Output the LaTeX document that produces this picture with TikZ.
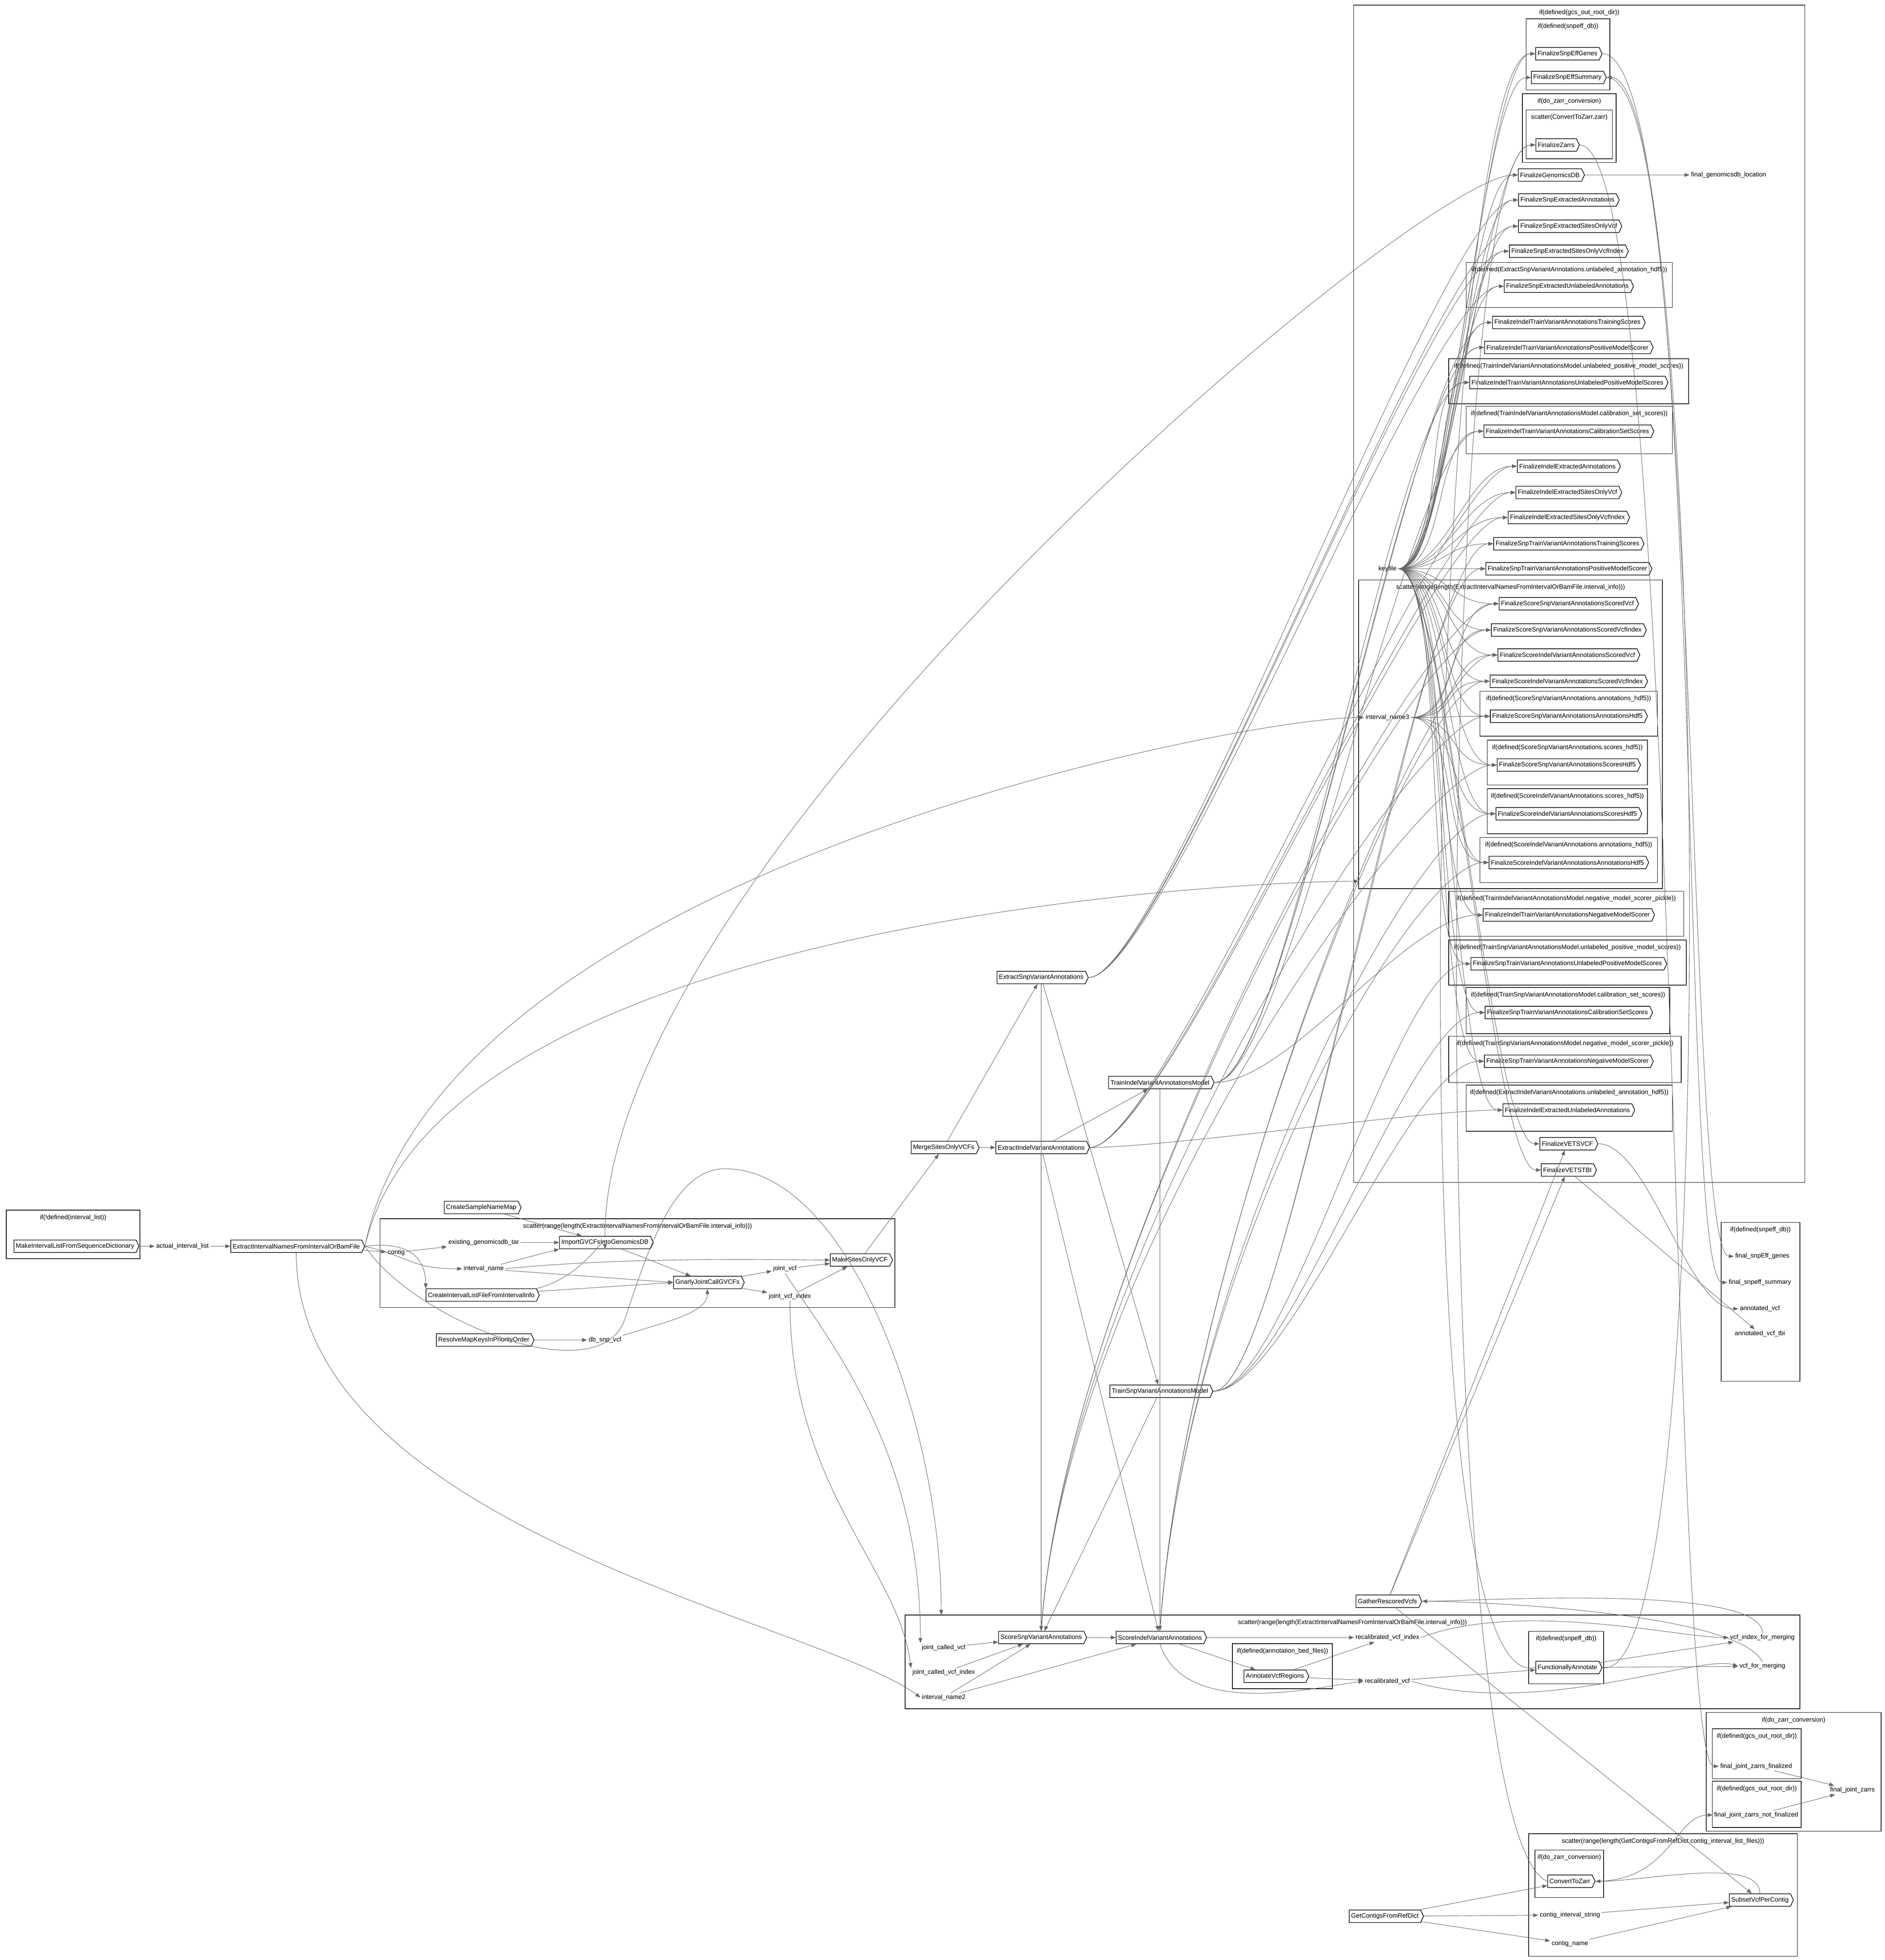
\documentclass[tikz,border=0pt]{standalone}
\usepackage{fontspec}
\setmainfont{Liberation Sans}
\usetikzlibrary{shapes.symbols,arrows.meta}
\begin{document}
\begin{tikzpicture}[x=1pt,y=-1pt,
  every node/.style={font=\fontsize{5.1}{6}\selectfont},
  task/.style={draw, signal, signal to=east, signal pointer angle=130, inner sep=1.5pt, minimum height=10pt, line width=0.5pt, fill=white},
  data/.style={inner sep=1pt},
  e/.style={draw=black!60, line width=0.35pt, -{Triangle[length=4pt,width=3pt]}},
  cl/.style={draw, line width=0.5pt},
  ctitle/.style={inner sep=0.5pt}]
\useasboundingbox (0,0) rectangle (1508,1568);
\newcommand\clus[6]{\draw[cl] (#2,#3) rectangle (#4,#5); \node[ctitle] (#1) at ({(#2+#4)/2},{#3+6}) {#6};}
% ---------- clusters
\clus{cA}{5}{968}{112}{1007}{if(!defined(interval\_list))}
\clus{cB}{304}{975}{716}{1046}{scatter(range(length(ExtractIntervalNamesFromIntervalOrBamFile.interval\_info)))}
\clus{cTop}{1083}{4}{1444}{946}{if(defined(gcs\_out\_root\_dir))}
\clus{cSE}{1221}{15}{1288}{72}{if(defined(snpeff\_db))}
\clus{cZ}{1218}{75}{1293}{130}{if(do\_zarr\_conversion)}
\clus{cZ2}{1221}{88}{1290}{127}{scatter(ConvertToZarr.zarr)}
\clus{c1}{1173}{210}{1338}{246}{if(defined(ExtractSnpVariantAnnotations.unlabeled\_annotation\_hdf5))}
\clus{c2}{1159}{287}{1351}{323}{if(defined(TrainIndelVariantAnnotationsModel.unlabeled\_positive\_model\_scores))}
\clus{c3}{1173}{325}{1338}{363}{if(defined(TrainIndelVariantAnnotationsModel.calibration\_set\_scores))}
\clus{cS3}{1087}{464}{1330}{711}{scatter(range(length(ExtractIntervalNamesFromIntervalOrBamFile.interval\_info)))}
\clus{c4}{1184}{553}{1326}{589}{if(defined(ScoreSnpVariantAnnotations.annotations\_hdf5))}
\clus{c5}{1190}{592}{1318}{628}{if(defined(ScoreSnpVariantAnnotations.scores\_hdf5))}
\clus{c6}{1190}{631}{1318}{667}{if(defined(ScoreIndelVariantAnnotations.scores\_hdf5))}
\clus{c7}{1184}{670}{1326}{706}{if(defined(ScoreIndelVariantAnnotations.annotations\_hdf5))}
\clus{c8}{1159}{713}{1347}{749}{if(defined(TrainIndelVariantAnnotationsModel.negative\_model\_scorer\_pickle))}
\clus{c9}{1159}{752}{1349}{788}{if(defined(TrainSnpVariantAnnotationsModel.unlabeled\_positive\_model\_scores))}
\clus{c10}{1173}{790}{1336}{827}{if(defined(TrainSnpVariantAnnotationsModel.calibration\_set\_scores))}
\clus{c11}{1159}{829}{1345}{866}{if(defined(TrainSnpVariantAnnotationsModel.negative\_model\_scorer\_pickle))}
\clus{c12}{1173}{868}{1338}{905}{if(defined(ExtractIndelVariantAnnotations.unlabeled\_annotation\_hdf5))}
\clus{cB2}{724}{1292}{1440}{1367}{scatter(range(length(ExtractIntervalNamesFromIntervalOrBamFile.interval\_info)))}
\clus{cBed}{986}{1315}{1066}{1351}{if(defined(annotation\_bed\_files))}
\clus{cSE2}{1223}{1305}{1283}{1347}{if(defined(snpeff\_db))}
\clus{cOut}{1377}{978}{1440}{1105}{if(defined(snpeff\_db))}
\clus{cZo}{1365}{1370}{1505}{1465}{if(do\_zarr\_conversion)}
\clus{cZo1}{1370}{1383}{1441}{1423}{if(defined(gcs\_out\_root\_dir))}
\clus{cZo2}{1370}{1425}{1441}{1462}{if(defined(gcs\_out\_root\_dir))}
\clus{cC}{1223}{1467}{1438}{1565}{scatter(range(length(GetContigsFromRefDict.contig\_interval\_list\_files)))}
\clus{cCZ}{1228}{1480}{1283}{1518}{if(do\_zarr\_conversion)}
% ---------- left nodes
\node[task] (MIL) at (60,997) {MakeIntervalListFromSequenceDictionary};
\node[data] (ail) at (146,997) {actual\_interval\_list};
\node[task] (EIN) at (237,997) {ExtractIntervalNamesFromIntervalOrBamFile};
\node[data] (contig) at (317,1002) {contig};
\node[task] (CSN) at (385,966) {CreateSampleNameMap};
\node[data] (egt) at (387,994) {existing\_genomicsdb\_tar};
\node[task] (IMP) at (484,994) {ImportGVCFsIntoGenomicsDB};
\node[data] (iname) at (387,1015) {interval\_name};
\node[task] (CIL) at (385,1036) {CreateIntervalListFileFromIntervalInfo};
\node[task] (GJC) at (566,1026) {GnarlyJointCallGVCFs};
\node[data] (jvcf) at (628,1015) {joint\_vcf};
\node[data] (jvcfi) at (632,1037) {joint\_vcf\_index};
\node[task] (MSO) at (688,1008) {MakeSitesOnlyVCF};
\node[task] (RMK) at (387,1072) {ResolveMapKeysInPriorityOrder};
\node[data] (dbsnp) at (484,1072) {db\_snp\_vcf};
% ---------- middle
\node[task] (MSV) at (755,918) {MergeSitesOnlyVCFs};
\node[task] (ESA) at (833,782) {ExtractSnpVariantAnnotations};
\node[task] (EIA) at (833,918) {ExtractIndelVariantAnnotations};
\node[task] (TIM) at (928,866) {TrainIndelVariantAnnotationsModel};
\node[task] (TSM) at (928,1113) {TrainSnpVariantAnnotationsModel};
\node[task] (GRV) at (1110,1281) {GatherRescoredVcfs};
% ---------- bottom scatter
\node[data] (jcv) at (755,1318) {joint\_called\_vcf};
\node[data] (jcvi) at (755,1338) {joint\_called\_vcf\_index};
\node[data] (in2) at (755,1358) {interval\_name2};
\node[task] (SSA) at (833,1310) {ScoreSnpVariantAnnotations};
\node[task] (SIA) at (928,1310) {ScoreIndelVariantAnnotations};
\node[data] (rvi) at (1110,1310) {recalibrated\_vcf\_index};
\node[task] (AVR) at (1020,1341) {AnnotateVcfRegions};
\node[data] (rv) at (1110,1345) {recalibrated\_vcf};
\node[task] (FA) at (1254,1334) {FunctionallyAnnotate};
\node[data] (vim) at (1410,1310) {vcf\_index\_for\_merging};
\node[data] (vm) at (1410,1333) {vcf\_for\_merging};
% ---------- right outputs
\node[data] (fsg) at (1410,1005) {final\_snpEff\_genes};
\node[data] (fss) at (1408,1026) {final\_snpeff\_summary};
\node[data] (av) at (1408,1047) {annotated\_vcf};
\node[data] (avt) at (1408,1067) {annotated\_vcf\_tbi};
\node[data] (fjzf) at (1405,1413) {final\_joint\_zarrs\_finalized};
\node[data] (fjzn) at (1405,1452) {final\_joint\_zarrs\_not\_finalized};
\node[data] (fjz) at (1482,1432) {final\_joint\_zarrs};
\node[task] (GCR) at (1108,1533) {GetContigsFromRefDict};
\node[task] (CTZ) at (1256,1505) {ConvertToZarr};
\node[data] (cis) at (1256,1532) {contig\_interval\_string};
\node[data] (cn) at (1256,1555) {contig\_name};
\node[task] (SVC) at (1408,1520) {SubsetVcfPerContig};
% ---------- top cluster
\node[data] (key) at (1110,455) {keyfile};
\node[data] (in3) at (1110,574) {interval\_name3};
\node[task] (F1) at (1254,43) {FinalizeSnpEffGenes};
\node[task] (F2) at (1254,62) {FinalizeSnpEffSummary};
\node[task] (F3) at (1245,116) {FinalizeZarrs};
\node[task] (F4) at (1240,140) {FinalizeGenomicsDB};
\node[data] (fgl) at (1383,140) {final\_genomicsdb\_location};
\node[task] (F5) at (1254,160) {FinalizeSnpExtractedAnnotations};
\node[task] (F6) at (1255,181) {FinalizeSnpExtractedSitesOnlyVcf};
\node[task] (F7) at (1254,201) {FinalizeSnpExtractedSitesOnlyVcfIndex};
\node[task] (F8) at (1254,229) {FinalizeSnpExtractedUnlabeledAnnotations};
\node[task] (F9) at (1254,258) {FinalizeIndelTrainVariantAnnotationsTrainingScores};
\node[task] (F10) at (1254,278) {FinalizeIndelTrainVariantAnnotationsPositiveModelScorer};
\node[task] (F11) at (1254,306) {FinalizeIndelTrainVariantAnnotationsUnlabeledPositiveModelScores};
\node[task] (F12) at (1254,345) {FinalizeIndelTrainVariantAnnotationsCalibrationSetScores};
\node[task] (F13) at (1254,373) {FinalizeIndelExtractedAnnotations};
\node[task] (F14) at (1254,394) {FinalizeIndelExtractedSitesOnlyVcf};
\node[task] (F15) at (1254,414) {FinalizeIndelExtractedSitesOnlyVcfIndex};
\node[task] (F16) at (1254,435) {FinalizeSnpTrainVariantAnnotationsTrainingScores};
\node[task] (F17) at (1254,455) {FinalizeSnpTrainVariantAnnotationsPositiveModelScorer};
\node[task] (S1) at (1254,483) {FinalizeScoreSnpVariantAnnotationsScoredVcf};
\node[task] (S2) at (1254,504) {FinalizeScoreSnpVariantAnnotationsScoredVcfIndex};
\node[task] (S3) at (1254,524) {FinalizeScoreIndelVariantAnnotationsScoredVcf};
\node[task] (S4) at (1254,545) {FinalizeScoreIndelVariantAnnotationsScoredVcfIndex};
\node[task] (S5) at (1254,573) {FinalizeScoreSnpVariantAnnotationsAnnotationsHdf5};
\node[task] (S6) at (1254,612) {FinalizeScoreSnpVariantAnnotationsScoresHdf5};
\node[task] (S7) at (1254,651) {FinalizeScoreIndelVariantAnnotationsScoresHdf5};
\node[task] (S8) at (1254,690) {FinalizeScoreIndelVariantAnnotationsAnnotationsHdf5};
\node[task] (F18) at (1254,732) {FinalizeIndelTrainVariantAnnotationsNegativeModelScorer};
\node[task] (F19) at (1254,771) {FinalizeSnpTrainVariantAnnotationsUnlabeledPositiveModelScores};
\node[task] (F20) at (1254,810) {FinalizeSnpTrainVariantAnnotationsCalibrationSetScores};
\node[task] (F21) at (1254,849) {FinalizeSnpTrainVariantAnnotationsNegativeModelScorer};
\node[task] (F22) at (1254,888) {FinalizeIndelExtractedUnlabeledAnnotations};
\node[task] (FV) at (1254,915) {FinalizeVETSVCF};
\node[task] (FT) at (1254,936) {FinalizeVETSTBI};
\coordinate (sc3in) at (1087,705);
\coordinate (b2in) at (753,1292);
% ---------- edges
\begin{scope}[every path/.style={e}]
\draw (MIL) -- (ail); \draw (ail) -- (EIN);
\draw (EIN) -- (contig);
\draw (EIN.east) .. controls +(40,10) and +(-40,0) .. (iname.west);
\draw (EIN.east) .. controls +(40,-5) and +(0,-20) .. (CIL.north west);
\draw (EIN.east) .. controls +(60,-300) and +(-100,0) .. (in3.west);
\draw (EIN.east) .. controls +(60,-260) and +(-100,0) .. (sc3in);
\draw (EIN.south) .. controls +(0,220) and +(-80,-60) .. (in2.west);
\draw (EIN.east) .. controls +(40,60) and +(-20,60) .. (500,1055) .. controls +(20,-60) and +(-40,0) .. (580,935) .. controls +(100,0) and +(0,-150) .. (b2in);
\draw (contig) -- (egt); \draw (egt) -- (IMP); \draw (CSN) -- (IMP);
\draw (iname) -- (IMP.south west); \draw (iname) -- (GJC.west);
\draw (iname.east) .. controls +(100,-10) and +(-40,0) .. (MSO.west);
\draw (CIL.north east) .. controls +(40,-10) and +(0,-15) .. (IMP.south);
\draw (CIL) -- (GJC.west);
\draw (IMP) -- (GJC); \draw (GJC) -- (jvcf); \draw (GJC) -- (jvcfi);
\draw (jvcf) -- (MSO); \draw (jvcfi) -- (MSO);
\draw (RMK) -- (dbsnp); \draw (dbsnp.north east) .. controls +(30,-10) and +(0,20) .. (GJC.south);
\draw (MSO) -- (MSV);
\draw (MSV) -- (ESA); \draw (MSV) -- (EIA);
\draw (jvcf.south) .. controls +(40,60) and +(0,-150) .. (jcv.north west);
\draw (jvcfi.south) .. controls +(0,150) and +(-10,-80) .. (jcvi.north west);
\draw (IMP.north) .. controls +(0,-300) and +(-80,0) .. (F4.west);
\draw (ESA) -- (SSA); \draw (EIA) -- (SSA); \draw (EIA) -- (SIA);
\draw (EIA) -- (TIM); \draw (ESA) -- (TSM);
\draw (TIM) -- (SIA); \draw (TSM) -- (SSA);
\draw (jcv) -- (SSA); \draw (jcvi) -- (SSA); \draw (in2) -- (SSA); \draw (in2) -- (SIA);
\draw (SSA) -- (SIA);
\draw (SIA) -- (rvi); \draw (SIA) -- (AVR);
\draw (SIA.south) .. controls +(20,60) and +(-40,5) .. (rv.west);
\draw (AVR) -- (rv); \draw (AVR) -- (rvi);
\draw (rv) -- (FA);
\draw (rv.east) .. controls +(100,30) and +(-30,-10) .. (vm.west);
\draw (rvi.east) .. controls +(80,-30) and +(-40,0) .. (vim.west);
\draw (FA) -- (vm); \draw (FA) -- (vim);
\draw (FA.west) .. controls +(-120,30) and +(-80,0) .. (F1.west);
\draw (FA.east) .. controls +(100,20) and +(80,0) .. (F2.east);
\draw (vm.north) .. controls +(-20,-40) and +(40,0) .. (GRV.east);
\draw (vim.north) .. controls +(0,-40) and +(40,0) .. (GRV.east);
\draw (GRV) -- (FV); \draw (GRV) -- (FT); \draw (GRV) -- (SVC);
\draw (FV.east) .. controls +(40,0) and +(-40,0) .. (av.west); \draw (FT) -- (avt);
\draw (F1.east) .. controls +(80,0) and +(-40,0) .. (fsg.west);
\draw (F2.east) .. controls +(80,0) and +(-40,0) .. (fss.west);
\draw (F4) -- (fgl);
\draw (GCR) -- (cis); \draw (GCR) -- (cn); \draw (GCR) -- (CTZ);
\draw (cis) -- (SVC); \draw (cn) -- (SVC);
\draw (SVC.north) .. controls +(0,-30) and +(40,0) .. (CTZ.east);
\draw (CTZ.west) .. controls +(-100,-40) and +(-80,0) .. (F3.west);
\draw (CTZ.east) .. controls +(60,0) and +(-30,0) .. (fjzn.west);
\draw (F3.east) .. controls +(80,0) and +(-40,0) .. (fjzf.west);
\draw (fjzf) -- (fjz); \draw (fjzn) -- (fjz);
\foreach \n in {F1,F2,F3,F4,F5,F6,F7,F8,F9,F10,F11,F12,F13,F14,F15,F16,F17,S1,S2,S3,S4,S5,S6,S7,S8,F18,F19,F20,F21,F22,FV,FT}
  \draw (key.east) .. controls +(40,0) and +(-40,0) .. (\n.west);
\foreach \n in {S1,S2,S3,S4,S5,S6,S7,S8} \draw (in3.east) .. controls +(40,0) and +(-40,0) .. (\n.west);
\foreach \n in {S1,S2,S5,S6} \draw (SSA.north) .. controls +(20,-300) and +(-60,0) .. (\n.west);
\foreach \n in {S3,S4,S7,S8} \draw (SIA.north) .. controls +(20,-300) and +(-60,0) .. (\n.west);
\foreach \n in {F5,F6,F7,F8} \draw (ESA.east) .. controls +(60,0) and +(-60,0) .. (\n.west);
\foreach \n in {F13,F14,F15,F22} \draw (EIA.east) .. controls +(60,0) and +(-60,0) .. (\n.west);
\foreach \n in {F9,F10,F11,F12,F18} \draw (TIM.east) .. controls +(60,0) and +(-60,0) .. (\n.west);
\foreach \n in {F16,F17,F19,F20,F21} \draw (TSM.east) .. controls +(60,0) and +(-60,0) .. (\n.west);
\end{scope}
\end{tikzpicture}
\end{document}
